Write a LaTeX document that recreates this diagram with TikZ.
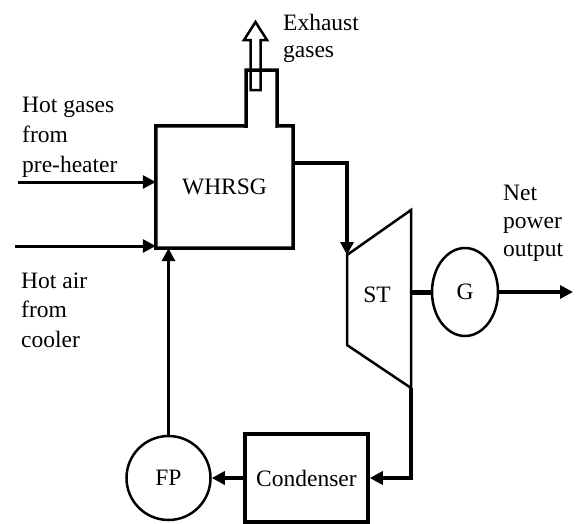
\documentclass[tikz,border=0pt]{standalone}
\usepackage{fontspec}
\setmainfont{Liberation Serif}
\usetikzlibrary{arrows.meta,shapes.geometric}
\begin{document}
\begin{tikzpicture}[x=1pt,y=-1pt,
  txt/.style={font=\fontsize{23.5}{30}\selectfont, inner sep=0pt},
  lbl/.style={txt, align=left, anchor=base west},
  boxline/.style={line width=3.5pt, line join=miter},
  outl/.style={line width=2.5pt},
  flow/.style={line width=3.3pt, -{Triangle[length=13pt,width=13pt]}},
  inflow/.style={line width=3pt, -{Triangle[length=13pt,width=13pt]}}]
\useasboundingbox (0,0) rectangle (582,523);
% WHRSG
\node[txt, minimum width=137pt, minimum height=122pt] (whrsg) at (224.5,187) {WHRSG};
\draw[boxline] (whrsg.north west) -- (246,126) -- (246,70) -- (277,70) -- (277,126)
  -- (whrsg.north east) -- (whrsg.south east) -- (whrsg.south west) -- cycle;
% exhaust hollow arrow
\draw[outl, line join=miter] (250.5,90) -- (250.5,40) -- (244,40) -- (255.5,22) -- (267,40) -- (260.5,40) -- (260.5,90) -- cycle;
\node[lbl, font=\fontsize{23.5}{27}\selectfont] (exh) at (283,57) {Exhaust\\gases};
% turbine
\coordinate (t1) at (347,255);
\coordinate (t2) at (411,210);
\coordinate (t3) at (411,388);
\coordinate (t4) at (347,345);
\draw[outl, line join=miter] (t1) -- (t2) -- (t3) -- (t4) -- cycle;
\node[txt] (st) at (377,295) {ST};
% generator
\node[txt, draw, outl, ellipse, minimum width=66pt, minimum height=88pt] (g) at (465,292) {G};
% condenser
\node[txt, draw, boxline, minimum width=123pt, minimum height=88pt] (cond) at (306.5,478) {Condenser};
% feed pump
\node[txt, draw, outl, circle, minimum size=84pt] (fp) at (168.5,478) {FP};
% connectors
\coordinate (out) at (whrsg.east |- 0,163);
\draw[flow] (out) -| (t1);
\draw[line width=5pt] (t2 |- g.west) -- (g.west);
\draw[flow] (g.east) -- (573,292);
\draw[flow] (t3) |- (cond.east);
\draw[flow] (cond.west) -- (fp.east);
\draw[flow] (fp.north) -- (fp.north |- whrsg.south);
\coordinate (in1) at (18,182);
\coordinate (in2) at (15,246);
\draw[inflow] (in1) -- (in1 -| whrsg.west);
\draw[inflow] (in2) -- (in2 -| whrsg.west);
% labels
\node[lbl, font=\fontsize{23.5}{30}\selectfont] (hg) at (22,172) {Hot gases\\from\\pre-heater};
\node[lbl, font=\fontsize{23.5}{29.5}\selectfont] (ha) at (21,347) {Hot air\\from\\cooler};
\node[lbl, font=\fontsize{23.5}{28}\selectfont] (np) at (503,256) {Net\\power\\output};
\end{tikzpicture}
\end{document}
